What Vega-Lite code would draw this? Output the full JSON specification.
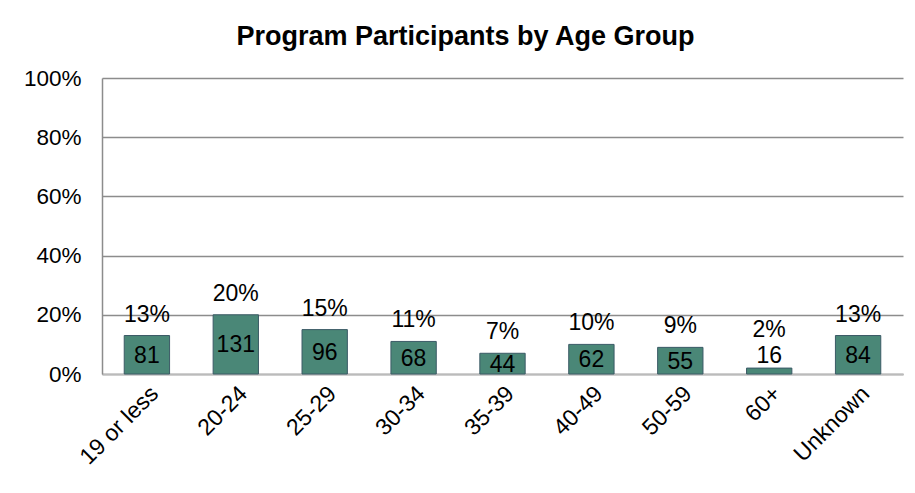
{
  "$schema": "https://vega.github.io/schema/vega-lite/v6.json",
  "width": 801,
  "height": 296,
  "autosize": {"type": "none"},
  "padding": {"left": 102, "top": 78, "right": 12, "bottom": 119},
  "background": "white",
  "title": {
    "text": "Program Participants by Age Group",
    "font": "Liberation Sans",
    "fontSize": 27,
    "fontWeight": "bold",
    "color": "black",
    "anchor": "middle",
    "dx": -37,
    "offset": 16
  },
  "data": {
    "values": [
      {"group": "19 or less", "pct": 0.13, "count": 81},
      {"group": "20-24", "pct": 0.20, "count": 131},
      {"group": "25-29", "pct": 0.15, "count": 96},
      {"group": "30-34", "pct": 0.11, "count": 68},
      {"group": "35-39", "pct": 0.07, "count": 44},
      {"group": "40-49", "pct": 0.10, "count": 62},
      {"group": "50-59", "pct": 0.09, "count": 55},
      {"group": "60+", "pct": 0.02, "count": 16},
      {"group": "Unknown", "pct": 0.13, "count": 84}
    ]
  },
  "transform": [
    {"calculate": "datum.pct < 0.05 ? 0.064 : datum.pct / 2", "as": "countPos"},
    {"calculate": "datum.pct < 0.05 ? 0.077 : datum.pct", "as": "pctPos"}
  ],
  "encoding": {
    "x": {
      "field": "group",
      "type": "nominal",
      "sort": null,
      "scale": {"paddingInner": 0.49, "paddingOuter": 0.25},
      "axis": {
        "title": null,
        "labelAngle": -45,
        "labelFont": "Liberation Sans",
        "labelFontSize": 23,
        "labelColor": "black",
        "ticks": false,
        "labelPadding": 8,
        "domainColor": "#bbbbbb",
        "domainWidth": 2
      }
    }
  },
  "layer": [
    {
      "mark": {"type": "bar", "color": "#4a8777", "stroke": "#3b5a66", "strokeWidth": 1},
      "encoding": {
        "y": {
          "field": "pct",
          "type": "quantitative",
          "scale": {"domain": [0, 1]},
          "axis": {
            "title": null,
            "format": ".0%",
            "values": [0, 0.2, 0.4, 0.6, 0.8, 1],
            "labelFont": "Liberation Sans",
            "labelFontSize": 22.5,
            "labelColor": "black",
            "ticks": false,
            "labelPadding": 21,
            "gridColor": "#8c8c8c",
            "gridWidth": 1.5,
            "domainColor": "#8c8c8c",
            "domainWidth": 1.5
          }
        }
      }
    },
    {
      "mark": {"type": "text", "font": "Liberation Sans", "fontSize": 23, "color": "black", "baseline": "middle", "dy": -21},
      "encoding": {
        "y": {"field": "pctPos", "type": "quantitative"},
        "text": {"field": "pct", "type": "quantitative", "format": ".0%"}
      }
    },
    {
      "mark": {"type": "text", "font": "Liberation Sans", "fontSize": 23, "color": "black", "baseline": "middle", "dy": 1},
      "encoding": {
        "y": {"field": "countPos", "type": "quantitative"},
        "text": {"field": "count", "type": "quantitative"}
      }
    }
  ],
  "config": {"view": {"stroke": null}}
}
